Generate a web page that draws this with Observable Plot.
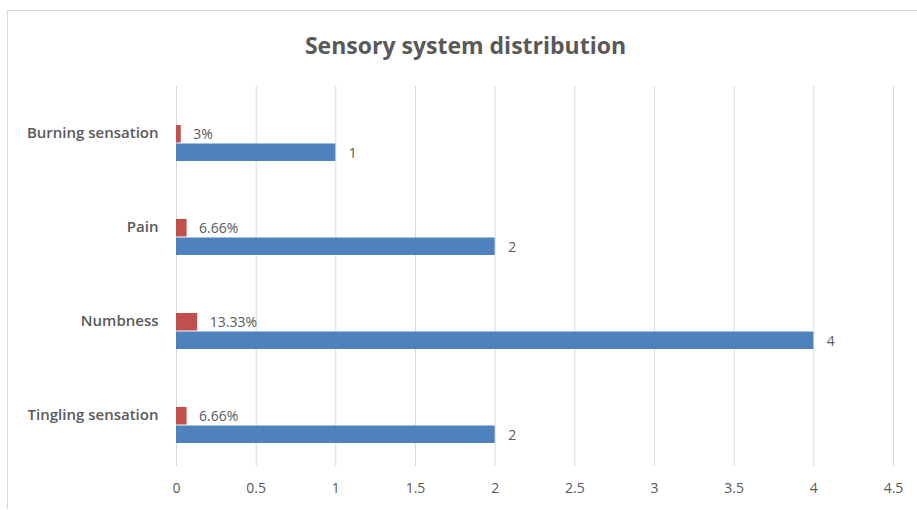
<!DOCTYPE html>
<html>
<head>
<meta charset="utf-8">
<script src="https://cdn.jsdelivr.net/npm/d3@7"></script>
<script src="https://cdn.jsdelivr.net/npm/@observablehq/plot@0.6"></script>
<style>
  html, body { margin: 0; padding: 0; background: #fff; }
  body { width: 917px; height: 510px; overflow: hidden; }
  #frame {
    margin: 10px 0 0 7px;
    border-top: 1px solid #d9d9d9;
    border-left: 1px solid #d9d9d9;
    height: 499px;
    box-sizing: border-box;
  }
  #title {
    height: 70px;
    line-height: 68px;
    text-align: center;
    font-family: "Open Sans", sans-serif;
    font-weight: 700;
    font-size: 23px;
    color: #595959;
    padding-left: 6px;
  }
  #chart svg { display: block; }
  #chart .y-axis text { font-weight: 600; font-size: 15px; }
</style>
</head>
<body>
<div id="frame">
  <div id="title">Sensory system distribution</div>
  <div id="chart"></div>
</div>
<script>
// Symptoms of the sensory system, top to bottom
const categories = ["Burning sensation", "Pain", "Numbness", "Tingling sensation"];
// Number of patients per symptom
const counts = [1, 2, 4, 2];
// Share of patients per symptom, in percent
const percents = [3, 6.66, 13.33, 6.66];
const percentLabels = ["3%", "6.66%", "13.33%", "6.66%"];
// Value axis ticks
const xTicks = [0, 0.5, 1, 1.5, 2, 2.5, 3, 3.5, 4, 4.5];

const rows = categories.map((category, i) => ({
  category,
  count: counts[i],
  share: percents[i] / 100,
  shareLabel: percentLabels[i]
}));

const red = "#c0504d";
const blue = "#4f81bd";
const ink = "#595959";

const chart = Plot.plot({
  width: 909,
  height: 429,
  marginTop: 5,
  marginBottom: 44,
  marginLeft: 168,
  marginRight: 24,
  style: { fontFamily: "'Open Sans', sans-serif", fontSize: "14px", color: ink, background: "transparent" },
  x: { domain: [0, 4.5] },
  y: { domain: categories, range: [14, 392], padding: 0 },
  marks: [
    Plot.ruleX(xTicks, { stroke: "#d9d9d9", strokeWidth: 1 }),
    Plot.axisX({ ticks: xTicks, tickSize: 0, tickPadding: 17, tickFormat: d => String(d), label: null, fill: ink }),
    Plot.axisY({ tickSize: 0, tickPadding: 18, dy: -10, label: null, fill: ink, className: "y-axis" }),
    Plot.barX(rows, { x: "share", y: "category", fill: red, insetTop: 29, insetBottom: 47.5 }),
    Plot.barX(rows, { x: "count", y: "category", fill: blue, insetTop: 47.5, insetBottom: 29 }),
    Plot.text(rows, { x: "share", y: "category", text: "shareLabel", textAnchor: "start", dx: 12, dy: -9, fill: ink }),
    Plot.text(rows, { x: "count", y: "category", text: d => String(d.count), textAnchor: "start", dx: 13, dy: 10, fill: ink })
  ]
});

document.getElementById("chart").appendChild(chart);
</script>
</body>
</html>
